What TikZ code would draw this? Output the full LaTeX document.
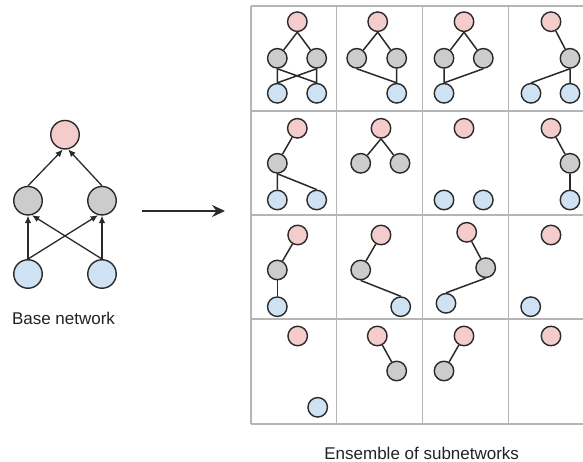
\documentclass[tikz,border=0pt]{standalone}
\usepackage{fontspec}
\setmainfont{Liberation Sans}
\usetikzlibrary{arrows.meta}
\definecolor{pinkfill}{HTML}{F4CCCC}
\definecolor{grayfill}{HTML}{CCCCCC}
\definecolor{bluefill}{HTML}{CFE2F3}
\definecolor{edgecol}{HTML}{2A2A2A}
\definecolor{gridcol}{HTML}{B5B5B5}
\definecolor{textcol}{HTML}{222222}
\begin{document}
\begin{tikzpicture}[x=1pt,y=-1pt,
  unit/.style={circle, draw=edgecol, line width=1.4pt, inner sep=0pt, minimum size=19.5pt},
  bigunit/.style={unit, minimum size=28.5pt},
  pinkunit/.style={fill=pinkfill},
  grayunit/.style={fill=grayfill},
  blueunit/.style={fill=bluefill},
  link/.style={draw=edgecol, line width=1.5pt},
  arrowlink/.style={link, line width=1.3pt, -{Latex[length=7.5pt,width=6.5pt]}},
  gridline/.style={draw=gridcol, line width=1.5pt},
  caption/.style={text=textcol, font=\fontsize{17}{20}\selectfont, anchor=base, inner sep=0pt}
]
\useasboundingbox (0,0) rectangle (583,462);

% ---------- base network ----------
\node[bigunit,pinkunit] (bp)  at (65,134.7) {};
\node[bigunit,grayunit] (bgl) at (28,200.7) {};
\node[bigunit,grayunit] (bgr) at (102,200.7) {};
\node[bigunit,blueunit] (bbl) at (28,274) {};
\node[bigunit,blueunit] (bbr) at (102,274) {};
\draw[arrowlink] (bbl.north) -- (bgl.south);
\draw[arrowlink] (bbr.north) -- (bgr.south);
\draw[arrowlink] (bbr.north) -- (bgl.-75);
\draw[arrowlink] (bbl.north) -- (bgr.-105);
\draw[arrowlink] (bgl.north) -- (bp.-98);
\draw[arrowlink] (bgr.north) -- (bp.-78);
\node[caption] (basecap) at (63.5,324) {Base network};

% ---------- arrow to the ensemble ----------
\coordinate (arrstart) at (141.7,211);
\coordinate (arrend) at (225,211);
\draw[edgecol, line width=2.3pt, -{Stealth[length=13pt,width=12pt,inset=4.5pt]}] (arrstart) -- (arrend);

% ---------- grid ----------
\foreach \yy in {6,111,215,319,424} \draw[gridline] (251,\yy) -- (583,\yy);
\foreach \xx in {251,336.7,422.3,508.3} \draw[gridline] (\xx,6) -- (\xx,424);

% row 1
\node[unit,pinkunit] (ap)  at (297.3,21.7) {};
\node[unit,grayunit] (agl) at (277.3,58.3) {};
\node[unit,grayunit] (agr) at (316.7,58.3) {};
\node[unit,blueunit] (abl) at (277.3,93.3) {};
\node[unit,blueunit] (abr) at (316.7,93.3) {};
\draw[link] (ap.south) -- (agl) (ap.south) -- (agr);
\draw[link] (agl.south) -- (abl.north) (agl.south) -- (abr.north)
            (agr.south) -- (abl.north) (agr.south) -- (abr.north);

\node[unit,pinkunit] (bp)  at (377.7,21.7) {};
\node[unit,grayunit] (bgl) at (356.7,58.3) {};
\node[unit,grayunit] (bgr) at (396.7,58.3) {};
\node[unit,blueunit] (bbr) at (396.7,93.3) {};
\draw[link] (bp.south) -- (bgl) (bp.south) -- (bgr);
\draw[link] (bgl.south) -- (bbr.north) (bgr.south) -- (bbr.north);

\node[unit,pinkunit] (cp)  at (464,21.7) {};
\node[unit,grayunit] (cgl) at (444,58.3) {};
\node[unit,grayunit] (cgr) at (483.3,58.3) {};
\node[unit,blueunit] (cbl) at (444,93.3) {};
\draw[link] (cp.south) -- (cgl) (cp.south) -- (cgr);
\draw[link] (cgl.south) -- (cbl.north) (cgr.south) -- (cbl.north);

\node[unit,pinkunit] (dp)  at (551,21.7) {};
\node[unit,grayunit] (dg)  at (570,58.3) {};
\node[unit,blueunit] (dbl) at (531,93.3) {};
\node[unit,blueunit] (dbr) at (570,93.3) {};
\draw[link] (dp) -- (dg);
\draw[link] (dg.south) -- (dbl.north) (dg.south) -- (dbr.north);

% row 2
\node[unit,pinkunit] (ep)  at (297.3,128.3) {};
\node[unit,grayunit] (eg)  at (277.3,163.3) {};
\node[unit,blueunit] (ebl) at (277.3,200) {};
\node[unit,blueunit] (ebr) at (316.7,200) {};
\draw[link] (ep) -- (eg);
\draw[link] (eg.south) -- (ebl.north) (eg.south) -- (ebr.north);

\node[unit,pinkunit] (fp)  at (381,128.3) {};
\node[unit,grayunit] (fgl) at (360.7,163.3) {};
\node[unit,grayunit] (fgr) at (400,163.3) {};
\draw[link] (fp.south) -- (fgl) (fp.south) -- (fgr);

\node[unit,pinkunit] (gp)  at (464,128.3) {};
\node[unit,blueunit] (gbl) at (444,200) {};
\node[unit,blueunit] (gbr) at (483.3,200) {};

\node[unit,pinkunit] (hp)  at (551,128.3) {};
\node[unit,grayunit] (hg)  at (570,163.3) {};
\node[unit,blueunit] (hb)  at (570,200) {};
\draw[link] (hp) -- (hg);
\draw[link] (hg.south) -- (hb.north);

% row 3
\node[unit,pinkunit] (ip)  at (297.7,235) {};
\node[unit,grayunit] (ig)  at (277.3,270) {};
\node[unit,blueunit] (ib)  at (277.3,306.7) {};
\draw[link] (ip) -- (ig);
\draw[link] (ig.south) -- (ib.north);

\node[unit,pinkunit] (jp)  at (381,235) {};
\node[unit,grayunit] (jg)  at (360.7,270) {};
\node[unit,blueunit] (jb)  at (400.7,306.7) {};
\draw[link] (jp) -- (jg);
\draw[link] (jg.south) -- (jb.north);

\node[unit,pinkunit] (kp)  at (466.7,232.3) {};
\node[unit,grayunit] (kg)  at (485.7,267.7) {};
\node[unit,blueunit] (kb)  at (446,303.3) {};
\draw[link] (kp) -- (kg);
\draw[link] (kg.south) -- (kb.north);

\node[unit,pinkunit] (lp)  at (551,235) {};
\node[unit,blueunit] (lb)  at (530.7,306.7) {};

% row 4
\node[unit,pinkunit] (mp)  at (297.7,336) {};
\node[unit,blueunit] (mb)  at (317.7,407.3) {};

\node[unit,pinkunit] (np)  at (377.3,336) {};
\node[unit,grayunit] (ng)  at (396.7,371) {};
\draw[link] (np) -- (ng);

\node[unit,pinkunit] (op)  at (464,336) {};
\node[unit,grayunit] (og)  at (444,371) {};
\draw[link] (op) -- (og);

\node[unit,pinkunit] (pp)  at (551,336) {};

\node[caption] (enscap) at (421.7,459) {Ensemble of subnetworks};
\end{tikzpicture}
\end{document}
